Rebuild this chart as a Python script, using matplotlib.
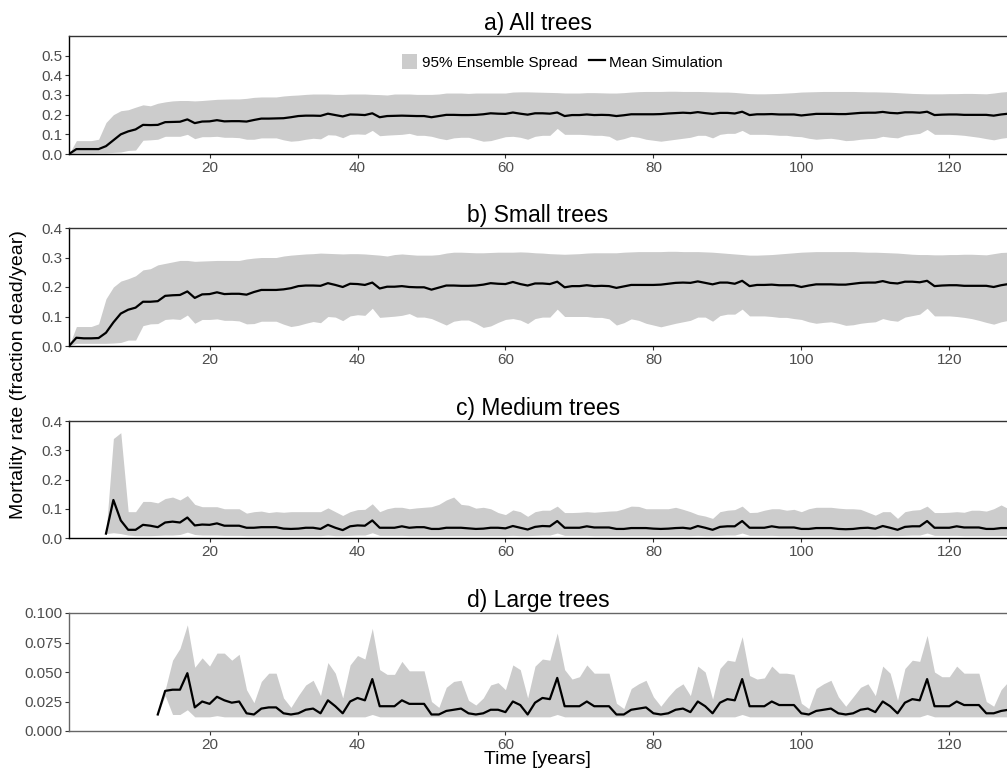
import numpy as np
import matplotlib
matplotlib.use('Agg')
import matplotlib.pyplot as plt
from matplotlib.patches import Patch
from matplotlib.lines import Line2D

plt.rcParams['font.family'] = ['Liberation Sans', 'DejaVu Sans']

nan = np.nan

# ---- a) All trees ----
all_mean = [0.0, 0.025, 0.025, 0.025, 0.025, 0.04, 0.07, 0.1, 0.115, 0.125,
            0.148, 0.147, 0.148, 0.162, 0.163, 0.164, 0.176, 0.157, 0.165, 0.166,
            0.172, 0.166, 0.167, 0.167, 0.165, 0.173, 0.18, 0.18, 0.181, 0.182,
            0.187, 0.193, 0.195, 0.195, 0.194, 0.205, 0.198, 0.191, 0.201, 0.2,
            0.198, 0.207, 0.187, 0.193, 0.194, 0.195, 0.194, 0.193, 0.193, 0.187,
            0.193, 0.199, 0.199, 0.198, 0.198, 0.199, 0.202, 0.207, 0.205, 0.204,
            0.211, 0.205, 0.2, 0.207, 0.207, 0.205, 0.211, 0.193, 0.198, 0.198,
            0.201, 0.198, 0.199, 0.198, 0.193, 0.197, 0.202, 0.202, 0.202, 0.202,
            0.203, 0.206, 0.208, 0.21, 0.208, 0.213, 0.208, 0.204, 0.209, 0.209,
            0.206, 0.215, 0.198, 0.202, 0.202, 0.203, 0.201, 0.201, 0.201, 0.196,
            0.2, 0.204, 0.204, 0.204, 0.203, 0.203, 0.206, 0.209, 0.21, 0.21,
            0.214, 0.209, 0.207, 0.212, 0.212, 0.21, 0.215, 0.198, 0.2, 0.201,
            0.201, 0.199, 0.199, 0.199, 0.199, 0.195, 0.201, 0.205]
all_upper = [0.0, 0.068, 0.068, 0.068, 0.075, 0.16, 0.2, 0.22, 0.225, 0.238,
             0.25, 0.245, 0.258, 0.265, 0.27, 0.272, 0.272, 0.27, 0.272, 0.275,
             0.278, 0.279, 0.28, 0.28, 0.283, 0.288, 0.29, 0.29, 0.29, 0.295,
             0.298, 0.3, 0.303, 0.305, 0.305, 0.305, 0.303, 0.303, 0.305, 0.305,
             0.305, 0.303, 0.302, 0.3, 0.305, 0.305, 0.305, 0.303, 0.303, 0.303,
             0.305, 0.31, 0.31, 0.31, 0.308, 0.31, 0.31, 0.31, 0.31, 0.31,
             0.315, 0.316, 0.316, 0.315, 0.314, 0.313, 0.312, 0.31, 0.31, 0.31,
             0.312, 0.312, 0.311, 0.31, 0.31, 0.312, 0.315, 0.317, 0.318, 0.318,
             0.318, 0.319, 0.319, 0.318, 0.318, 0.318, 0.317, 0.316, 0.315, 0.315,
             0.313, 0.31, 0.307, 0.306, 0.306, 0.307, 0.308, 0.31, 0.312, 0.315,
             0.316, 0.317, 0.318, 0.318, 0.318, 0.318, 0.318, 0.317, 0.316, 0.316,
             0.315, 0.314, 0.312, 0.31, 0.308, 0.307, 0.306, 0.306, 0.306, 0.307,
             0.307, 0.308, 0.308, 0.307, 0.306, 0.31, 0.315, 0.318]
all_lower = [0.0, 0.005, 0.005, 0.005, 0.006, 0.006, 0.008, 0.01, 0.018, 0.02,
             0.07, 0.072, 0.075, 0.09, 0.09, 0.09, 0.1, 0.078, 0.088, 0.088,
             0.09, 0.085, 0.085, 0.083, 0.075, 0.075, 0.082, 0.082, 0.082, 0.072,
             0.065, 0.068, 0.075, 0.08, 0.077, 0.098, 0.096, 0.083, 0.1, 0.102,
             0.1, 0.12, 0.093, 0.096, 0.098, 0.1, 0.105, 0.095, 0.095, 0.09,
             0.08, 0.073, 0.082, 0.085, 0.085, 0.075, 0.065, 0.068, 0.078, 0.088,
             0.09, 0.085, 0.075, 0.09, 0.095, 0.095, 0.13, 0.1, 0.1, 0.1,
             0.098, 0.095, 0.095, 0.09, 0.07, 0.078, 0.09, 0.085, 0.075, 0.07,
             0.065, 0.07, 0.075, 0.08, 0.085, 0.095, 0.095, 0.082, 0.1, 0.105,
             0.105, 0.12, 0.1, 0.1, 0.1, 0.098, 0.095, 0.095, 0.09, 0.088,
             0.08, 0.075, 0.078, 0.08, 0.075, 0.068, 0.07, 0.075, 0.078, 0.08,
             0.09, 0.085, 0.082, 0.095, 0.1, 0.105, 0.125, 0.1, 0.1, 0.1,
             0.098, 0.095, 0.09, 0.085, 0.078, 0.072, 0.08, 0.085]

# ---- b) Small trees ----
small_mean = [0.0, 0.028, 0.026, 0.026, 0.027, 0.045, 0.08, 0.11, 0.123, 0.13,
              0.15, 0.15, 0.152, 0.17, 0.172, 0.173, 0.185, 0.163, 0.175, 0.176,
              0.182, 0.176, 0.177, 0.177, 0.174, 0.183, 0.19, 0.19, 0.19, 0.192,
              0.196, 0.203, 0.205, 0.205, 0.204, 0.213, 0.207, 0.2, 0.211, 0.21,
              0.207, 0.215, 0.195, 0.201, 0.201, 0.203, 0.2, 0.199, 0.199, 0.191,
              0.198, 0.205, 0.205, 0.204, 0.204, 0.205, 0.208, 0.213, 0.211, 0.21,
              0.217, 0.21, 0.205, 0.212, 0.212, 0.21, 0.218, 0.199, 0.203, 0.203,
              0.206, 0.203, 0.204, 0.203, 0.197, 0.202, 0.207, 0.207, 0.207, 0.207,
              0.208, 0.211, 0.214, 0.215, 0.214, 0.219, 0.214, 0.209, 0.215, 0.215,
              0.211, 0.221, 0.203, 0.207, 0.207, 0.208, 0.206, 0.206, 0.206, 0.2,
              0.205, 0.209, 0.209, 0.209, 0.208, 0.208, 0.211, 0.214, 0.215, 0.215,
              0.22, 0.214, 0.212, 0.218, 0.218, 0.216, 0.221, 0.203, 0.205, 0.206,
              0.206, 0.204, 0.204, 0.204, 0.204, 0.2, 0.206, 0.21]
small_upper = [0.0, 0.066, 0.066, 0.066, 0.075, 0.16, 0.2, 0.22, 0.228, 0.238,
               0.258, 0.262, 0.275, 0.28, 0.285, 0.29, 0.29, 0.287, 0.288, 0.289,
               0.29, 0.29, 0.29, 0.29, 0.295, 0.298, 0.3, 0.3, 0.3, 0.305,
               0.308, 0.31, 0.312, 0.313, 0.315, 0.314, 0.313, 0.312, 0.313, 0.313,
               0.312, 0.31, 0.308, 0.305, 0.31, 0.312, 0.31, 0.308, 0.308, 0.308,
               0.31, 0.315, 0.318, 0.318, 0.317, 0.316, 0.316, 0.317, 0.318, 0.318,
               0.318, 0.319, 0.318, 0.316, 0.315, 0.313, 0.312, 0.311, 0.312, 0.313,
               0.315, 0.316, 0.316, 0.316, 0.316, 0.318, 0.319, 0.32, 0.32, 0.32,
               0.32, 0.321, 0.321, 0.32, 0.32, 0.32, 0.319, 0.318, 0.316, 0.314,
               0.312, 0.31, 0.308, 0.308, 0.309, 0.31, 0.312, 0.314, 0.316, 0.318,
               0.319, 0.32, 0.32, 0.32, 0.32, 0.32, 0.32, 0.319, 0.318, 0.318,
               0.317, 0.316, 0.315, 0.313, 0.311, 0.31, 0.31, 0.309, 0.309, 0.31,
               0.31, 0.311, 0.311, 0.31, 0.309, 0.313, 0.317, 0.318]
small_lower = [0.0, 0.009, 0.009, 0.009, 0.009, 0.009, 0.01, 0.012, 0.02, 0.02,
               0.069, 0.075, 0.076, 0.09, 0.092, 0.09, 0.105, 0.077, 0.09, 0.09,
               0.092, 0.087, 0.087, 0.085, 0.075, 0.076, 0.084, 0.084, 0.084, 0.074,
               0.066, 0.07, 0.077, 0.083, 0.079, 0.1, 0.098, 0.086, 0.102, 0.106,
               0.104, 0.128, 0.097, 0.099, 0.101, 0.104, 0.11, 0.098, 0.098, 0.093,
               0.082, 0.071, 0.084, 0.088, 0.088, 0.077, 0.063, 0.068, 0.08, 0.09,
               0.093, 0.088, 0.076, 0.093, 0.098, 0.098, 0.125, 0.1, 0.1, 0.1,
               0.1, 0.097, 0.097, 0.092, 0.071, 0.079, 0.092, 0.087, 0.077, 0.071,
               0.065, 0.071, 0.077, 0.082, 0.087, 0.098, 0.098, 0.084, 0.103, 0.108,
               0.108, 0.125, 0.102, 0.102, 0.102, 0.1, 0.097, 0.097, 0.093, 0.09,
               0.082, 0.077, 0.08, 0.082, 0.077, 0.07, 0.072, 0.077, 0.08, 0.082,
               0.093, 0.087, 0.084, 0.098, 0.103, 0.108, 0.128, 0.102, 0.102, 0.102,
               0.1, 0.097, 0.093, 0.087, 0.08, 0.074, 0.082, 0.087]

# ---- c) Medium trees ----
medium_mean = [nan, nan, nan, nan, nan, 0.015, 0.13, 0.06, 0.028, 0.028,
               0.045, 0.042, 0.037, 0.053, 0.056, 0.053, 0.07, 0.043, 0.046, 0.045,
               0.05, 0.042, 0.042, 0.042, 0.035, 0.035, 0.037, 0.037, 0.037, 0.032,
               0.031, 0.032, 0.035, 0.035, 0.031, 0.045, 0.035, 0.027, 0.04, 0.043,
               0.042, 0.06, 0.035, 0.035, 0.035, 0.04, 0.035, 0.037, 0.037, 0.031,
               0.031, 0.035, 0.035, 0.035, 0.033, 0.031, 0.032, 0.035, 0.035, 0.033,
               0.041, 0.035, 0.029, 0.038, 0.041, 0.04, 0.058, 0.035, 0.035, 0.035,
               0.04, 0.036, 0.036, 0.036, 0.031, 0.031, 0.034, 0.034, 0.034, 0.032,
               0.031, 0.032, 0.034, 0.035, 0.032, 0.041, 0.035, 0.028, 0.038, 0.04,
               0.04, 0.058, 0.035, 0.035, 0.035, 0.04, 0.036, 0.036, 0.036, 0.031,
               0.031, 0.034, 0.034, 0.034, 0.031, 0.03, 0.031, 0.034, 0.035, 0.032,
               0.041, 0.035, 0.028, 0.038, 0.04, 0.04, 0.058, 0.035, 0.035, 0.035,
               0.04, 0.036, 0.036, 0.036, 0.031, 0.031, 0.034, 0.034]
medium_upper = [nan, nan, nan, nan, nan, 0.015, 0.34, 0.36, 0.09, 0.09,
                0.125, 0.125, 0.12, 0.135, 0.14, 0.13, 0.145, 0.115, 0.107, 0.107,
                0.107, 0.1, 0.1, 0.1, 0.085, 0.09, 0.092, 0.087, 0.09, 0.088,
                0.09, 0.09, 0.09, 0.09, 0.09, 0.103, 0.09, 0.077, 0.09, 0.097,
                0.098, 0.117, 0.09, 0.1, 0.105, 0.105, 0.1, 0.103, 0.105, 0.107,
                0.115, 0.13, 0.14, 0.115, 0.112, 0.102, 0.105, 0.1, 0.087, 0.08,
                0.096, 0.09, 0.074, 0.09, 0.095, 0.095, 0.109, 0.087, 0.087, 0.088,
                0.09, 0.088, 0.09, 0.092, 0.093, 0.1, 0.109, 0.108, 0.1, 0.1,
                0.1, 0.1, 0.105, 0.098, 0.09, 0.08, 0.075, 0.067, 0.09, 0.095,
                0.097, 0.109, 0.087, 0.088, 0.095, 0.1, 0.1, 0.095, 0.098, 0.09,
                0.1, 0.105, 0.105, 0.105, 0.102, 0.1, 0.1, 0.098, 0.088, 0.078,
                0.09, 0.09, 0.067, 0.09, 0.095, 0.097, 0.109, 0.087, 0.087, 0.088,
                0.09, 0.088, 0.095, 0.095, 0.092, 0.1, 0.113, 0.1]
medium_lower = [nan, nan, nan, nan, nan, 0.015, 0.018, 0.015, 0.01, 0.008,
                0.008, 0.008, 0.009, 0.01, 0.01, 0.012, 0.02, 0.012, 0.01, 0.01,
                0.01, 0.009, 0.009, 0.009, 0.008, 0.008, 0.008, 0.008, 0.008, 0.008,
                0.008, 0.008, 0.008, 0.008, 0.008, 0.01, 0.008, 0.008, 0.009, 0.01,
                0.01, 0.018, 0.009, 0.009, 0.009, 0.009, 0.008, 0.008, 0.008, 0.008,
                0.008, 0.008, 0.008, 0.008, 0.008, 0.008, 0.008, 0.008, 0.008, 0.008,
                0.009, 0.008, 0.008, 0.009, 0.01, 0.01, 0.017, 0.009, 0.009, 0.009,
                0.009, 0.008, 0.008, 0.008, 0.008, 0.008, 0.008, 0.008, 0.008, 0.008,
                0.008, 0.008, 0.008, 0.008, 0.008, 0.009, 0.008, 0.008, 0.009, 0.01,
                0.01, 0.017, 0.009, 0.009, 0.009, 0.009, 0.008, 0.008, 0.008, 0.008,
                0.008, 0.008, 0.008, 0.008, 0.008, 0.008, 0.008, 0.008, 0.008, 0.008,
                0.009, 0.008, 0.008, 0.009, 0.01, 0.01, 0.017, 0.009, 0.009, 0.009,
                0.009, 0.008, 0.008, 0.008, 0.008, 0.008, 0.008, 0.008]

# ---- d) Large trees ----
large_mean = [nan, nan, nan, nan, nan, nan, nan, nan, nan, nan,
              nan, nan, 0.014, 0.034, 0.035, 0.035, 0.049, 0.02, 0.025, 0.023,
              0.029, 0.026, 0.024, 0.025, 0.015, 0.014, 0.019, 0.02, 0.02, 0.015,
              0.014, 0.015, 0.018, 0.019, 0.015, 0.026, 0.021, 0.015, 0.025, 0.028,
              0.026, 0.044, 0.021, 0.021, 0.021, 0.026, 0.023, 0.023, 0.023, 0.014,
              0.014, 0.017, 0.018, 0.019, 0.015, 0.014, 0.015, 0.018, 0.018, 0.016,
              0.025, 0.022, 0.014, 0.024, 0.028, 0.027, 0.045, 0.021, 0.021, 0.021,
              0.025, 0.021, 0.021, 0.021, 0.014, 0.014, 0.018, 0.019, 0.02, 0.015,
              0.014, 0.015, 0.018, 0.019, 0.016, 0.025, 0.021, 0.015, 0.024, 0.027,
              0.026, 0.044, 0.021, 0.021, 0.021, 0.025, 0.022, 0.022, 0.022, 0.015,
              0.014, 0.017, 0.018, 0.019, 0.015, 0.014, 0.015, 0.018, 0.019, 0.016,
              0.025, 0.021, 0.015, 0.024, 0.027, 0.026, 0.044, 0.021, 0.021, 0.021,
              0.025, 0.022, 0.022, 0.022, 0.015, 0.015, 0.017, 0.018]
large_upper = [nan, nan, nan, nan, nan, nan, nan, nan, nan, nan,
               nan, nan, 0.014, 0.035, 0.06, 0.07, 0.09, 0.054, 0.062, 0.055,
               0.066, 0.066, 0.06, 0.065, 0.035, 0.024, 0.042, 0.049, 0.049, 0.028,
               0.02, 0.03, 0.039, 0.043, 0.03, 0.058, 0.049, 0.028, 0.056, 0.064,
               0.061, 0.087, 0.052, 0.048, 0.048, 0.059, 0.051, 0.051, 0.051, 0.025,
               0.02, 0.037, 0.042, 0.043, 0.026, 0.022, 0.028, 0.039, 0.041, 0.035,
               0.056, 0.052, 0.028, 0.055, 0.061, 0.06, 0.083, 0.052, 0.044, 0.046,
               0.056, 0.049, 0.049, 0.049, 0.0235, 0.019, 0.036, 0.04, 0.043, 0.029,
               0.021, 0.029, 0.036, 0.04, 0.03, 0.055, 0.05, 0.027, 0.053, 0.06,
               0.059, 0.08, 0.047, 0.044, 0.045, 0.055, 0.049, 0.049, 0.048, 0.0235,
               0.019, 0.036, 0.04, 0.043, 0.029, 0.021, 0.029, 0.037, 0.04, 0.03,
               0.055, 0.049, 0.026, 0.053, 0.06, 0.059, 0.081, 0.05, 0.046, 0.046,
               0.055, 0.049, 0.049, 0.049, 0.025, 0.021, 0.035, 0.042]
large_lower = [nan, nan, nan, nan, nan, nan, nan, nan, nan, nan,
               nan, nan, 0.014, 0.03, 0.014, 0.014, 0.018, 0.012, 0.012, 0.012,
               0.013, 0.012, 0.012, 0.012, 0.012, 0.012, 0.012, 0.012, 0.012, 0.012,
               0.012, 0.012, 0.012, 0.012, 0.012, 0.012, 0.012, 0.012, 0.012, 0.012,
               0.012, 0.014, 0.012, 0.012, 0.012, 0.012, 0.012, 0.012, 0.012, 0.012,
               0.012, 0.012, 0.012, 0.012, 0.012, 0.012, 0.012, 0.012, 0.012, 0.012,
               0.012, 0.012, 0.012, 0.012, 0.012, 0.012, 0.014, 0.012, 0.012, 0.012,
               0.012, 0.012, 0.012, 0.012, 0.012, 0.012, 0.012, 0.012, 0.012, 0.012,
               0.012, 0.012, 0.012, 0.012, 0.012, 0.012, 0.012, 0.012, 0.012, 0.012,
               0.012, 0.014, 0.012, 0.012, 0.012, 0.012, 0.012, 0.012, 0.012, 0.012,
               0.012, 0.012, 0.012, 0.012, 0.012, 0.012, 0.012, 0.012, 0.012, 0.012,
               0.012, 0.012, 0.012, 0.012, 0.012, 0.012, 0.014, 0.012, 0.012, 0.012,
               0.012, 0.012, 0.012, 0.012, 0.012, 0.012, 0.012, 0.012]

titles = ['a) All trees', 'b) Small trees', 'c) Medium trees', 'd) Large trees']
y_ticks = [[0.0, 0.1, 0.2, 0.3, 0.4, 0.5],
           [0.0, 0.1, 0.2, 0.3, 0.4],
           [0.0, 0.1, 0.2, 0.3, 0.4],
           [0.0, 0.025, 0.05, 0.075, 0.1]]
y_limits = [(0, 0.6), (0, 0.4), (0, 0.4), (0, 0.1)]
y_formats = ['{:.1f}', '{:.1f}', '{:.1f}', '{:.3f}']
x_ticks = [20, 40, 60, 80, 100, 120]

panels = [(all_mean, all_upper, all_lower),
          (small_mean, small_upper, small_lower),
          (medium_mean, medium_upper, medium_lower),
          (large_mean, large_upper, large_lower)]

# axes boxes in figure pixels (top, bottom) measured from the top
boxes = [(36, 154), (228, 346), (421, 538), (613, 731)]
W, H = 1007, 772
fig = plt.figure(figsize=(W / 100, H / 100), dpi=100)

band_col = '#CCCCCC'
axes = []
for i, (mean, upper, lower) in enumerate(panels):
    top, bot = boxes[i]
    ax = fig.add_axes([69 / W, 1 - bot / H, 1 - 69 / W, (bot - top) / H])
    years = np.arange(1, len(mean) + 1)
    ax.fill_between(years, np.array(lower, float), np.array(upper, float),
                    color=band_col, linewidth=0)
    ax.plot(years, np.array(mean, float), color='black', lw=1.6)
    ax.set_xlim(1, 127.8)
    ax.set_ylim(*y_limits[i])
    ax.set_xticks(x_ticks)
    ax.set_yticks(y_ticks[i])
    ax.set_yticklabels([y_formats[i].format(v) for v in y_ticks[i]])
    edge = '#666666' if i == 3 else '#333333'
    for s in ['left', 'bottom', 'top']:
        ax.spines[s].set_color(edge)
        ax.spines[s].set_linewidth(1.0)
    ax.spines['left'].set_color('black' if i < 3 else edge)
    ax.spines['bottom'].set_color('black' if i < 3 else edge)
    ax.spines['right'].set_visible(False)
    ax.tick_params(length=3, width=0.8, color='#333333', labelcolor='#4D4D4D',
                   labelsize=11, pad=2)
    ax.set_title(titles[i], fontsize=16.5, pad=4)
    axes.append(ax)

handles = [Patch(facecolor=band_col, edgecolor='none'),
           Line2D([0], [0], color='black', lw=1.6)]
axes[0].legend(handles, ['95% Ensemble Spread', 'Mean Simulation'],
               loc='center', bbox_to_anchor=(0.526, 0.78), ncol=2, frameon=False,
               fontsize=11, handlelength=1.0, handleheight=1.1,
               handletextpad=0.3, columnspacing=0.8, borderaxespad=0)

fig.text(19 / W, 1 - 375 / H, 'Mortality rate (fraction dead/year)', rotation=90,
         ha='center', va='center', fontsize=14)
fig.text(537 / W, 1 - 760 / H, 'Time [years]', ha='center', va='center', fontsize=14)

fig.savefig('out.png', dpi=100)
